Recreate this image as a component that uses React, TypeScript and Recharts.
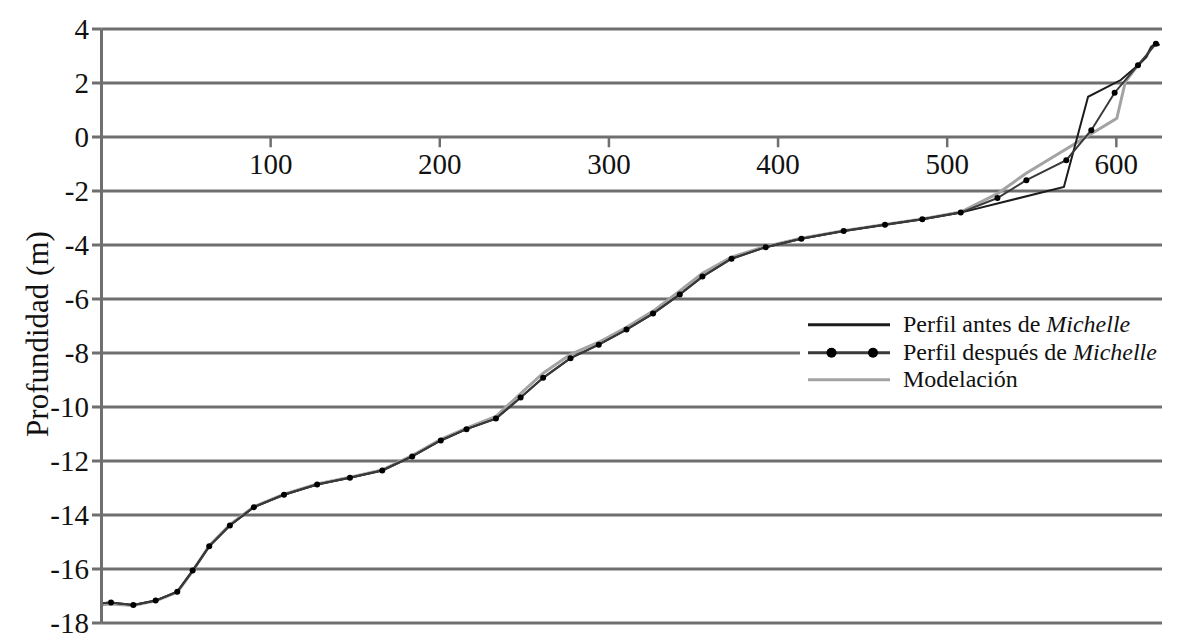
import React from 'react';
import {
  LineChart,
  Line,
  XAxis,
  YAxis,
  CartesianGrid,
  ReferenceLine,
  ReferenceDot,
  Legend,
  Label,
} from 'recharts';

const FONT = '"Liberation Serif", "Times New Roman", serif';

// ---- Data (distance in m, depth in m) ----
const antesX = [0, 5.6, 18.8, 32, 44.8, 53.9, 63.7, 75.9, 90.1, 107.9, 127.5, 146.9, 166, 183.7, 200.6, 215.8, 233.2, 247.8, 261.1, 277.3, 294.0, 310.4, 326.1, 341.9, 355.3, 372.5, 392.7, 413.8, 438.8, 463.2, 485.3, 508.0, 569, 583.3, 602.6, 612.8, 617.7, 620.7, 623.6, 625.5];
const antesY = [-17.27, -17.24, -17.33, -17.17, -16.84, -16.06, -15.16, -14.39, -13.71, -13.25, -12.87, -12.62, -12.35, -11.83, -11.24, -10.82, -10.43, -9.65, -8.92, -8.19, -7.69, -7.13, -6.54, -5.83, -5.17, -4.51, -4.08, -3.77, -3.48, -3.25, -3.05, -2.80, -1.85, 1.49, 2.11, 2.66, 2.97, 3.34, 3.47, 3.4];

const despuesX = [0, 5.6, 18.8, 32, 44.8, 53.9, 63.7, 75.9, 90.1, 107.9, 127.5, 146.9, 166, 183.7, 200.6, 215.8, 233.2, 247.8, 261.1, 277.3, 294.0, 310.4, 326.1, 341.9, 355.3, 372.5, 392.7, 413.8, 438.8, 463.2, 485.3, 508.0, 529.7, 546.8, 570.4, 585.2, 599, 612.8, 623.4, 625.5];
const despuesY = [-17.27, -17.24, -17.33, -17.17, -16.84, -16.06, -15.16, -14.39, -13.71, -13.25, -12.87, -12.62, -12.35, -11.83, -11.24, -10.82, -10.43, -9.65, -8.92, -8.19, -7.69, -7.13, -6.54, -5.83, -5.17, -4.51, -4.08, -3.77, -3.48, -3.25, -3.05, -2.80, -2.26, -1.60, -0.86, 0.25, 1.64, 2.66, 3.45, 3.4];

const modelX = [0, 5.6, 18.8, 32, 44.8, 53.9, 63.7, 75.9, 90.1, 107.9, 127.5, 146.9, 166, 183.7, 200.6, 215.8, 233.2, 247.8, 261.1, 277.3, 294.0, 310.4, 326.1, 341.9, 355.3, 372.5, 392.7, 413.8, 438.8, 463.2, 485.3, 508.0, 529.7, 546.5, 600.3, 605.3, 612.8, 617.7, 620.7, 623.6, 625.5];
const modelY = [-17.32, -17.3, -17.35, -17.18, -16.86, -16.08, -15.14, -14.36, -13.69, -13.23, -12.85, -12.6, -12.33, -11.8, -11.2, -10.78, -10.35, -9.5, -8.75, -8.05, -7.6, -7.05, -6.45, -5.7, -5.05, -4.45, -4.05, -3.75, -3.47, -3.24, -3.04, -2.78, -2.1, -1.35, 0.69, 2.04, 2.66, 2.97, 3.34, 3.47, 3.4];

const xTicks = [100, 200, 300, 400, 500, 600];
const yTicks = [-18, -16, -14, -12, -10, -8, -6, -4, -2, 0, 2, 4];

const seriesNames = ['Perfil antes de ', 'Perfil después de ', 'Modelación'];
const seriesItalic = ['Michelle', 'Michelle', ''];

const toPoints = (xs: number[], ys: number[]) => xs.map((x, i) => ({ x, y: ys[i] }));

const antesData = toPoints(antesX, antesY);
const despuesData = toPoints(despuesX, despuesY);
const modelData = toPoints(modelX, modelY);

const GRID = '#6f6f6f';
const C_ANTES = '#1c1c1c';
const C_DESPUES = '#3a3a3a';
const C_MODEL = '#a3a3a3';

const renderDot = (props: any) => {
  const { cx, cy, index } = props;
  if (index === 0 || index === despuesData.length - 1) return <g key={`d${index}`} />;
  return <circle key={`d${index}`} cx={cx} cy={cy} r={3} fill="#000" stroke="none" />;
};

const renderLegend = () => {
  const colors = [C_ANTES, C_DESPUES, C_MODEL];
  return (
    <div
      style={{
        background: '#fff',
        width: 362,
        height: 83,
        fontFamily: FONT,
        fontSize: 24,
        color: '#111',
      }}
    >
      {seriesNames.map((name, i) => (
        <div key={i} style={{ display: 'flex', alignItems: 'center', height: 27.5 }}>
          <svg width={97} height={27.5} style={{ display: 'block', flex: 'none' }}>
            <line x1={8} x2={90} y1={13.75} y2={13.75} stroke={colors[i]} strokeWidth={3} />
            {i === 1 && <circle cx={31.5} cy={13.75} r={5} fill="#000" />}
            {i === 1 && <circle cx={73} cy={13.75} r={5} fill="#000" />}
          </svg>
          <span style={{ marginLeft: 6, whiteSpace: 'nowrap', lineHeight: '27.5px' }}>
            {name}
            {seriesItalic[i] && <i>{seriesItalic[i]}</i>}
          </span>
        </div>
      ))}
    </div>
  );
};

export default function App() {
  return (
    <div style={{ width: 1171, height: 634 }}>
      <LineChart
        width={1171}
        height={634}
        margin={{ top: 21, right: 17, bottom: 19, left: 0 }}
        style={{ fontFamily: FONT }}
      >
        <CartesianGrid horizontal vertical={false} stroke={GRID} strokeWidth={3} strokeOpacity={1} />
        <XAxis type="number" dataKey="x" domain={[0, 627]} hide allowDataOverflow />
        <YAxis
          type="number"
          dataKey="y"
          domain={[-18, 4]}
          ticks={yTicks}
          width={93.5}
          interval={0}
          allowDataOverflow
          axisLine={{ stroke: GRID, strokeWidth: 3 }}
          tickLine={{ stroke: GRID, strokeWidth: 3 }}
          tickSize={9.5}
          tickMargin={3}
          tick={{ fontSize: 29, fill: '#111', fontFamily: FONT }}
        >
          <Label
            value="Profundidad (m)"
            angle={-90}
            position="center"
            dx={-18}
            dy={8}
            style={{ fontSize: 31, fill: '#111', fontFamily: FONT, textAnchor: 'middle' }}
          />
        </YAxis>
        {xTicks.map((v) => (
          <ReferenceLine
            key={`tl${v}`}
            segment={[
              { x: v, y: 0 },
              { x: v, y: -0.38 },
            ]}
            stroke={GRID}
            strokeWidth={2.5}
          />
        ))}
        {xTicks.map((v) => (
          <ReferenceDot
            key={`lb${v}`}
            x={v}
            y={-1.0}
            r={0}
            fill="none"
            stroke="none"
            label={{ value: String(v), position: 'center', fontSize: 29, fill: '#111', fontFamily: FONT }}
          />
        ))}
        <Line
          data={modelData}
          dataKey="y"
          name="Modelación"
          type="linear"
          stroke={C_MODEL}
          strokeWidth={3}
          dot={false}
          activeDot={false}
          isAnimationActive={false}
        />
        <Line
          data={antesData}
          dataKey="y"
          name="Perfil antes de Michelle"
          type="linear"
          stroke={C_ANTES}
          strokeWidth={2}
          dot={false}
          activeDot={false}
          isAnimationActive={false}
        />
        <Line
          data={despuesData}
          dataKey="y"
          name="Perfil después de Michelle"
          type="linear"
          stroke={C_DESPUES}
          strokeWidth={2}
          dot={renderDot}
          activeDot={false}
          isAnimationActive={false}
        />
        <Legend
          layout="horizontal"
          align="center"
          verticalAlign="middle"
          content={renderLegend}
          wrapperStyle={{ left: 792, top: 303, width: 362, height: 83, margin: 0, padding: 0 }}
        />
      </LineChart>
    </div>
  );
}
